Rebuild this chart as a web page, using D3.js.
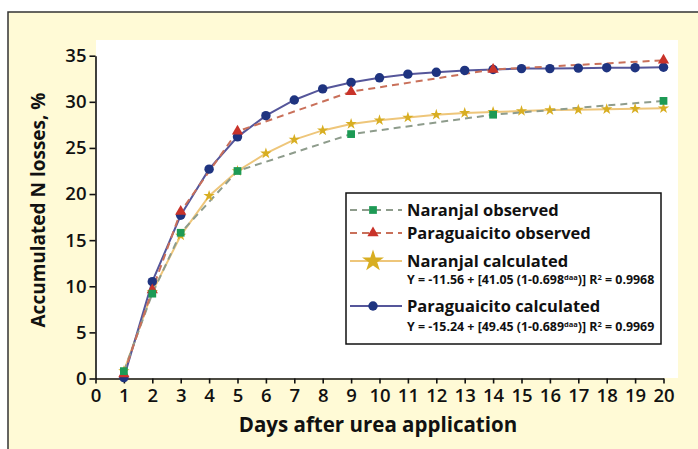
<!DOCTYPE html>
<html lang="en">
<head>
<meta charset="UTF-8" />
<title>Accumulated N losses</title>
<script src="https://d3js.org/d3.v7.min.js"></script>
<style>
  body { margin: 0; background: #fff; }
  text { font-family: "Open Sans", Lato, sans-serif; fill: #111; }
</style>
</head>
<body>
<svg id="chart" width="698" height="449"></svg>
<script>
// days and readings
const days = d3.range(1, 21);
const xTicks = d3.range(0, 21);
const yTicks = [0, 5, 10, 15, 20, 25, 30, 35];

const obsDays = [1, 2, 3, 5, 9, 14, 20];
const naranjalObs = [0.8, 9.2, 15.8, 22.5, 26.5, 28.6, 30.1];
const paraguaicitoObs = [0.5, 9.6, 18.1, 26.8, 31.1, 33.5, 34.5];

const naranjalCalc = [0.8, 9.4, 15.5, 19.8, 22.5, 24.4, 25.9, 26.9, 27.6, 28.0,
                      28.3, 28.6, 28.8, 28.9, 29.0, 29.1, 29.15, 29.2, 29.25, 29.3];
const paraguaicitoCalc = [0.1, 10.5, 17.7, 22.7, 26.2, 28.5, 30.2, 31.4, 32.1, 32.6,
                          33.0, 33.2, 33.4, 33.5, 33.6, 33.6, 33.65, 33.7, 33.7, 33.75];

const svg = d3.select("#chart");
const width = +svg.attr("width");
const height = +svg.attr("height");

// cream frame
svg.append("rect")
  .attr("x", 8).attr("y", 12)
  .attr("width", width).attr("height", height)
  .attr("fill", "#fffad6")
  .attr("stroke", "#333")
  .attr("stroke-width", 1.5);

// white plot panel
svg.append("rect")
  .attr("x", 96).attr("y", 40)
  .attr("width", 582).attr("height", 338)
  .attr("fill", "#ffffff");

const x = d3.scaleLinear().domain([0, 20]).range([95.5, 663.5]);
const y = d3.scaleLinear().domain([0, 35]).range([378.5, 55.7]);

// axes
const xAxis = svg.append("g")
  .attr("transform", `translate(0,${y(0)})`)
  .call(d3.axisBottom(x).tickValues(xTicks).tickSize(5).tickSizeOuter(0).tickPadding(5));
const yAxis = svg.append("g")
  .attr("transform", `translate(${x(0)},0)`)
  .call(d3.axisLeft(y).tickValues(yTicks).tickSize(6).tickSizeOuter(0).tickPadding(3));

[xAxis, yAxis].forEach(g => {
  g.selectAll("path, line").attr("stroke", "#111").attr("stroke-width", 1.6);
  g.selectAll("text")
    .style("font-family", "'Open Sans', sans-serif")
    .style("font-size", "18.5px")
    .style("font-weight", "600")
    .attr("fill", "#111");
});

// series styling
const series = [
  { name: "Naranjal observed", xs: obsDays, ys: naranjalObs, line: "#8e9c8c", dash: "7,5",
    width: 2, symbol: d3.symbolSquare, size: 60, fill: "#1d9a55" },
  { name: "Paraguaicito observed", xs: obsDays, ys: paraguaicitoObs, line: "#c9705a", dash: "7,5",
    width: 2, symbol: d3.symbolTriangle, size: 55, fill: "#c9332a" },
  { name: "Naranjal calculated", xs: days, ys: naranjalCalc, line: "#eec67a", dash: null,
    width: 2, symbol: d3.symbolStar, size: 40, fill: "#d8ae22" },
  { name: "Paraguaicito calculated", xs: days, ys: paraguaicitoCalc, line: "#55569a", dash: null,
    width: 2, symbol: d3.symbolCircle, size: 70, fill: "#1f3480" }
];

const lineGen = d3.line().x(d => x(d[0])).y(d => y(d[1]));

const plot = svg.append("g");
// lines: calculated first, observed dashed on top
[2, 3, 0, 1].forEach(i => {
  const s = series[i];
  plot.append("path")
    .datum(s.xs.map((d, j) => [d, s.ys[j]]))
    .attr("fill", "none")
    .attr("stroke", s.line)
    .attr("stroke-width", s.width)
    .attr("stroke-dasharray", s.dash)
    .attr("d", lineGen);
});
// markers
[2, 3, 1, 0].forEach(i => {
  const s = series[i];
  plot.selectAll(null)
    .data(s.xs.map((d, j) => [d, s.ys[j]]))
    .join("path")
    .attr("transform", d => `translate(${x(d[0])},${y(d[1])})`)
    .attr("d", d3.symbol().type(s.symbol).size(s.size))
    .attr("fill", s.fill);
});

// legend
const legend = svg.append("g");
legend.append("rect")
  .attr("x", 346).attr("y", 193)
  .attr("width", 315).attr("height", 151)
  .attr("fill", "#fff")
  .attr("stroke", "#111")
  .attr("stroke-width", 1.5);

const rowsY = [210, 233, 261, 306];
series.forEach((s, i) => {
  const cy = rowsY[i];
  legend.append("line")
    .attr("x1", 350).attr("x2", 402)
    .attr("y1", cy).attr("y2", cy)
    .attr("stroke", s.line)
    .attr("stroke-width", 2)
    .attr("stroke-dasharray", s.dash);
  legend.append("path")
    .attr("transform", `translate(373,${cy})`)
    .attr("d", d3.symbol().type(s.symbol).size(s.symbol === d3.symbolStar ? 150 : s.size))
    .attr("fill", s.fill);
  legend.append("text")
    .attr("x", 407).attr("y", cy + 5.5)
    .style("font-size", "16.5px")
    .style("font-weight", "700")
    .text(s.name);
});

const equations = [
  { y: 284, a: "Y = -11.56 + [41.05 (1-0.698", r2: " = 0.9968" },
  { y: 331, a: "Y = -15.24 + [49.45 (1-0.689", r2: " = 0.9969" }
];
equations.forEach(e => {
  const t = legend.append("text")
    .attr("x", 407).attr("y", e.y)
    .style("font-size", "12.4px")
    .style("font-weight", "700");
  t.append("tspan").text(e.a);
  t.append("tspan").attr("dy", -4).style("font-size", "7.5px").text("daa");
  t.append("tspan").attr("dy", 4).text(")] R");
  t.append("tspan").attr("dy", -4).style("font-size", "7.5px").text("2");
  t.append("tspan").attr("dy", 4).text(e.r2);
});

// axis titles
svg.append("text")
  .attr("x", 378).attr("y", 432)
  .attr("text-anchor", "middle")
  .style("font-size", "20.5px")
  .style("font-weight", "700")
  .text("Days after urea application");

svg.append("text")
  .attr("transform", "translate(45,210) rotate(-90)")
  .attr("text-anchor", "middle")
  .style("font-size", "19px")
  .style("font-weight", "700")
  .text("Accumulated N losses, %");
</script>
</body>
</html>
